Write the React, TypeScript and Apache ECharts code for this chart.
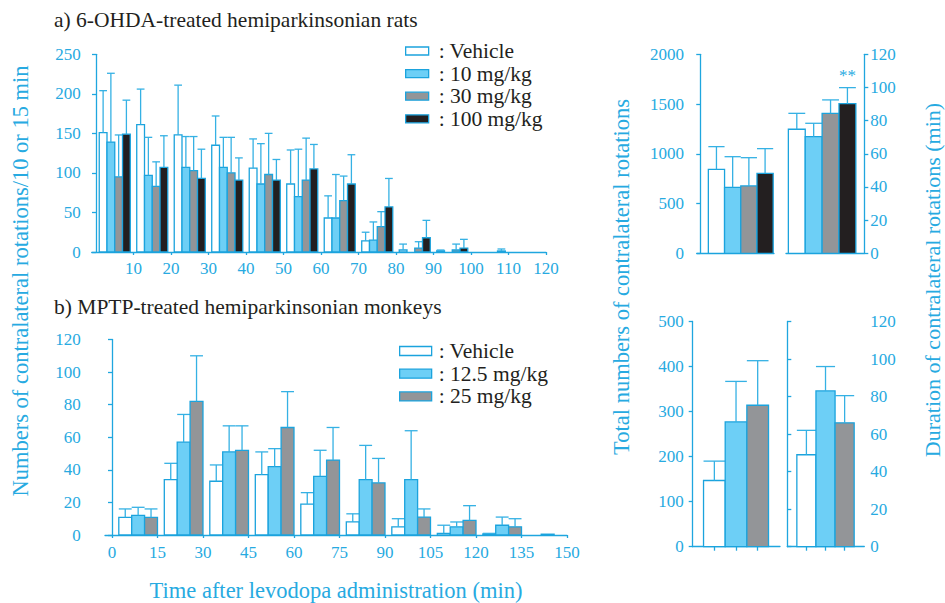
import React, { useEffect, useRef } from 'react';
import * as echarts from 'echarts';

// ---------- data: a) 6-OHDA rats (10-min bins) ----------
const ratBinStarts = [0, 10, 20, 30, 40, 50, 60, 70, 80, 90, 100, 110];
const ratBinWidth = 10;
const ratTickLabels = [10, 20, 30, 40, 50, 60, 70, 80, 90, 100, 110, 120];
const ratVehicle = [151, 161, 148, 135, 106, 86, 43, 14, 2.5, 1.5, 0, 0];
const ratVehicleErr = [204, 206, 211, 172, 143, 129, 71, 25, 10, 2.5, null, null];
const rat10 = [139, 97, 107, 107, 86, 70, 43, 15, 0, 0, 0, 0];
const rat10Err = [226, 145, 146, 145, 137, 130, 98, 38, null, null, null, null];
const rat30 = [95, 83, 103, 100, 98, 91, 65, 32, 5, 2.5, 0, 0];
const rat30Err = [148, 114, 146, 145, 150, 144, 96, 51, 13, 10, null, null];
const rat100 = [149, 107, 93, 91, 91, 105, 86, 57, 18, 5, 1.3, 0];
const rat100Err = [192, 147, 130, 119, 117, 136, 123, 93, 40, 16, 3.8, null];

// ---------- data: b) MPTP monkeys (15-min bins) ----------
const monkeyBinStarts = [0, 15, 30, 45, 60, 75, 90, 105, 120, 135];
const monkeyBinWidth = 15;
const monkeyTickLabels = [0, 15, 30, 45, 60, 75, 90, 105, 120, 135, 150];
const monkeyVehicle = [10.8, 34, 33, 37, 19, 8, 5, 1, 0.6, 0];
const monkeyVehicleErr = [16, 44, 43, 51, 26, 13, 10, 6, 1, null];
const monkey12 = [12, 57, 51, 42, 36, 34, 34, 5, 6, 0.5];
const monkey12Err = [17, 74, 67, 53, 52, 55, 64, 8, 11, null];
const monkey25 = [10.8, 82, 52, 66, 46, 32, 11, 9, 5, 0];
const monkey25Err = [16, 110, 67, 88, 66, 47, 16, 18, 10, null];

// ---------- data: totals / durations ----------
const ratTotal = [844, 663, 677, 804];
const ratTotalErr = [1072, 971, 961, 1052];
const ratDuration = [74.8, 70.3, 84.4, 90.2];
const ratDurationErr = [84.4, 78.4, 92.5, 99.9];
const ratDurationSig = ['', '', '', '**'];
const monkeyTotal = [147, 277, 314];
const monkeyTotalErr = [190, 367, 413];
const monkeyDuration = [49, 83, 66];
const monkeyDurationErr = [62, 96, 80.5];

// ---------- styles ----------
const FONT = '"Liberation Serif", "Times New Roman", serif';
const BLUE = '#27aae1';
const AXIS_BLUE = '#1fa6df';
const ERR_BLUE = '#35b1e4';
const BORDER = '#1ba3dd';
const DARK = '#231f20';
const F_WHITE = '#ffffff';
const F_LIGHT = '#6dcff6';
const F_GRAY = '#939598';
const F_BLACK = '#231f20';

const ratSeries = [
  { name: 'Vehicle', values: ratVehicle, errs: ratVehicleErr, fill: F_WHITE },
  { name: '10 mg/kg', values: rat10, errs: rat10Err, fill: F_LIGHT },
  { name: '30 mg/kg', values: rat30, errs: rat30Err, fill: F_GRAY },
  { name: '100 mg/kg', values: rat100, errs: rat100Err, fill: F_BLACK },
];
const monkeySeries = [
  { name: 'Vehicle', values: monkeyVehicle, errs: monkeyVehicleErr, fill: F_WHITE },
  { name: '12.5 mg/kg', values: monkey12, errs: monkey12Err, fill: F_LIGHT },
  { name: '25 mg/kg', values: monkey25, errs: monkey25Err, fill: F_GRAY },
];

function drawBar(api: any, left: number, bw: number, xData: number, v: number, e: number, fill: string, sig?: string) {
  const children: any[] = [];
  if (!(v > 0)) return { type: 'group', children };
  const yBase = api.coord([xData, 0])[1];
  const yTop = api.coord([xData, v])[1];
  children.push({
    type: 'rect',
    shape: { x: left, y: yTop, width: bw, height: yBase - yTop },
    style: { fill, stroke: BORDER, lineWidth: 1.3 },
  });
  if (isFinite(e) && e > v) {
    const yE = api.coord([xData, e])[1];
    const cx = left + bw / 2;
    children.push({ type: 'line', shape: { x1: cx, y1: yTop, x2: cx, y2: yE }, style: { stroke: ERR_BLUE, lineWidth: 1.3 } });
    children.push({ type: 'line', shape: { x1: left, y1: yE, x2: left + bw, y2: yE }, style: { stroke: ERR_BLUE, lineWidth: 1.3 } });
    if (sig) {
      children.push({
        type: 'text',
        x: cx,
        y: yE - 12,
        style: { text: sig, fill: BLUE, fontFamily: FONT, fontSize: 17, align: 'center', verticalAlign: 'middle' },
      });
    }
  }
  return { type: 'group', children };
}

function timeBarRenderer(idx: number, n: number, barUnits: number, align: 'center' | 'end', fill: string) {
  return (params: any, api: any) => {
    const start = api.value(0);
    const end = api.value(1);
    const v = api.value(2);
    const e = api.value(3);
    const bw = api.size([barUnits, 0])[0];
    const ps = api.coord([start, 0]);
    const pe = api.coord([end, 0]);
    const groupW = n * bw;
    const left = align === 'center' ? (ps[0] + pe[0]) / 2 - groupW / 2 + idx * bw : pe[0] - groupW + idx * bw;
    return drawBar(api, left, bw, start, v, e, fill);
  };
}

function doseBarRenderer(fills: string[], sigs?: string[]) {
  return (params: any, api: any) => {
    const pos = api.value(0);
    const v = api.value(1);
    const e = api.value(2);
    const l = api.coord([pos - 0.5, 0])[0];
    const r = api.coord([pos + 0.5, 0])[0];
    return drawBar(api, l, r - l, pos, v, e, fills[params.dataIndex], sigs ? sigs[params.dataIndex] : undefined);
  };
}

const axisLine = { show: true, lineStyle: { color: AXIS_BLUE, width: 1.3 } };
const tickStyle = { show: true, inside: false, length: 4, lineStyle: { color: AXIS_BLUE, width: 1.3 } };
const plain = (v: number) => String(v);
const labelStyle = { color: BLUE, fontFamily: FONT, fontSize: 17, fontWeight: 'normal', formatter: plain };

function buildOption(): any {
  const grids = [
    { left: 91.7, top: 54.3, width: 454.3, height: 197.7 }, // a
    { left: 105, top: 339.5, width: 462, height: 207 }, // b
    { left: 697, top: 54.3, width: 77, height: 199 }, // a totals
    { left: 786, top: 54.3, width: 78.3, height: 199 }, // a duration
    { left: 692.7, top: 321.5, width: 87.3, height: 225.2 }, // b totals
    { left: 787.3, top: 321.5, width: 77, height: 225.2 }, // b duration
  ];

  const xAxis: any[] = [
    {
      type: 'value', gridIndex: 0, min: -1.15, max: 120,
      axisLine, splitLine: { show: false },
      axisTick: { ...tickStyle, length: 3, customValues: ratTickLabels },
      axisLabel: { ...labelStyle, margin: 8, customValues: ratTickLabels },
    },
    {
      type: 'value', gridIndex: 1, min: -2.3, max: 150,
      axisLine, splitLine: { show: false },
      axisTick: { ...tickStyle, length: 3, customValues: monkeyTickLabels },
      axisLabel: { ...labelStyle, margin: 9, customValues: monkeyTickLabels },
      name: 'Time after levodopa administration (min)',
      nameLocation: 'middle', nameGap: 44,
      nameTextStyle: { color: BLUE, fontFamily: FONT, fontSize: 22.5 },
    },
    { type: 'value', gridIndex: 2, min: -0.2, max: 4.55, axisLine, splitLine: { show: false }, axisTick: { show: false }, axisLabel: { show: false } },
    { type: 'value', gridIndex: 3, min: 0.36, max: 5, axisLine, splitLine: { show: false }, axisTick: { show: false }, axisLabel: { show: false } },
    { type: 'value', gridIndex: 4, min: 0, max: 4.03, axisLine, splitLine: { show: false }, axisTick: { ...tickStyle, customValues: [1, 2, 3] }, axisLabel: { show: false } },
    { type: 'value', gridIndex: 5, min: 0, max: 4.03, axisLine, splitLine: { show: false }, axisTick: { ...tickStyle, customValues: [1, 2, 3] }, axisLabel: { show: false } },
  ];

  const yAxis: any[] = [
    { type: 'value', gridIndex: 0, min: 0, max: 250, interval: 50, axisLine, axisTick: tickStyle, splitLine: { show: false }, axisLabel: { ...labelStyle, margin: 11 } },
    { type: 'value', gridIndex: 1, min: 0, max: 120, interval: 20, offset: 13.3, axisLine, axisTick: tickStyle, splitLine: { show: false }, axisLabel: { ...labelStyle, margin: 11 } },
    { type: 'value', gridIndex: 2, min: 0, max: 2000, interval: 500, axisLine, axisTick: tickStyle, splitLine: { show: false }, axisLabel: { ...labelStyle, margin: 13 } },
    { type: 'value', gridIndex: 3, position: 'right', min: 0, max: 120, interval: 20, axisLine, axisTick: tickStyle, splitLine: { show: false }, axisLabel: { ...labelStyle, margin: 6 } },
    { type: 'value', gridIndex: 4, min: 0, max: 500, interval: 100, axisLine, axisTick: tickStyle, splitLine: { show: false }, axisLabel: { ...labelStyle, margin: 9 } },
    { type: 'value', gridIndex: 5, position: 'right', min: 0, max: 120, interval: 20, axisLine, axisTick: tickStyle, splitLine: { show: false }, axisLabel: { ...labelStyle, margin: 6 } },
  ];

  const series: any[] = [];
  ratSeries.forEach((s, i) => {
    series.push({
      type: 'custom', name: s.name, xAxisIndex: 0, yAxisIndex: 0, silent: true,
      itemStyle: { color: s.fill, borderColor: BORDER, borderWidth: 1.3 },
      encode: { x: [0, 1], y: [2, 3] },
      renderItem: timeBarRenderer(i, ratSeries.length, 2.07, 'center', s.fill),
      data: ratBinStarts.map((b, j) => [b, b + ratBinWidth, s.values[j], s.errs[j] == null ? NaN : s.errs[j]]),
    });
  });
  monkeySeries.forEach((s, i) => {
    series.push({
      type: 'custom', name: s.name, xAxisIndex: 1, yAxisIndex: 1, silent: true,
      itemStyle: { color: s.fill, borderColor: BORDER, borderWidth: 1.3 },
      encode: { x: [0, 1], y: [2, 3] },
      renderItem: timeBarRenderer(i, monkeySeries.length, 4.25, 'end', s.fill),
      data: monkeyBinStarts.map((b, j) => [b, b + monkeyBinWidth, s.values[j], s.errs[j] == null ? NaN : s.errs[j]]),
    });
  });
  const ratFills = ratSeries.map((s) => s.fill);
  const monkeyFills = monkeySeries.map((s) => s.fill);
  series.push({
    type: 'custom', name: 'rat total', xAxisIndex: 2, yAxisIndex: 2, silent: true,
    encode: { x: 0, y: [1, 2] },
    renderItem: doseBarRenderer(ratFills),
    data: ratTotal.map((v, i) => [i + 1, v, ratTotalErr[i]]),
  });
  series.push({
    type: 'custom', name: 'rat duration', xAxisIndex: 3, yAxisIndex: 3, silent: true,
    encode: { x: 0, y: [1, 2] },
    renderItem: doseBarRenderer(ratFills, ratDurationSig),
    data: ratDuration.map((v, i) => [i + 1, v, ratDurationErr[i]]),
  });
  series.push({
    type: 'custom', name: 'monkey total', xAxisIndex: 4, yAxisIndex: 4, silent: true,
    encode: { x: 0, y: [1, 2] },
    renderItem: doseBarRenderer(monkeyFills),
    data: monkeyTotal.map((v, i) => [i + 1, v, monkeyTotalErr[i]]),
  });
  series.push({
    type: 'custom', name: 'monkey duration', xAxisIndex: 5, yAxisIndex: 5, silent: true,
    encode: { x: 0, y: [1, 2] },
    renderItem: doseBarRenderer(monkeyFills),
    data: monkeyDuration.map((v, i) => [i + 1, v, monkeyDurationErr[i]]),
  });

  const legendText = { fontFamily: FONT, fontSize: 21.5, color: DARK };

  return {
    animation: false,
    backgroundColor: '#ffffff',
    textStyle: { fontFamily: FONT },
    title: [
      { text: 'a) 6-OHDA-treated hemiparkinsonian rats', left: 54, top: 9, padding: 0, textStyle: { fontFamily: FONT, fontSize: 21.5, fontWeight: 'normal', color: DARK } },
      { text: 'b) MPTP-treated hemiparkinsonian monkeys', left: 54, top: 296, padding: 0, textStyle: { fontFamily: FONT, fontSize: 21.5, fontWeight: 'normal', color: DARK } },
    ],
    legend: [
      {
        orient: 'vertical', left: 405, top: 40, padding: 0, itemWidth: 23, itemHeight: 8, itemGap: 0.6,
        selectedMode: false, icon: 'rect', formatter: ': {name}',
        textStyle: { ...legendText, padding: [0, 0, 0, 5] },
        data: ratSeries.map((s) => ({ name: s.name, itemStyle: { color: s.fill, borderColor: BORDER, borderWidth: 1.3 } })),
      },
      {
        orient: 'vertical', left: 399, top: 340, padding: 0, itemWidth: 32, itemHeight: 9, itemGap: 0.7,
        selectedMode: false, icon: 'rect', formatter: ': {name}',
        textStyle: { ...legendText, padding: [0, 0, 0, 2] },
        data: monkeySeries.map((s) => ({ name: s.name, itemStyle: { color: s.fill, borderColor: BORDER, borderWidth: 1.3 } })),
      },
    ],
    grid: grids,
    xAxis,
    yAxis,
    series,
    graphic: [
      {
        type: 'text', x: 20, y: 281, rotation: Math.PI / 2, silent: true,
        style: { text: 'Numbers of contralateral rotations/10 or 15 min', fill: BLUE, fontFamily: FONT, fontSize: 22.5, align: 'center', verticalAlign: 'middle' },
      },
      {
        type: 'text', x: 621, y: 277, rotation: Math.PI / 2, silent: true,
        style: { text: 'Total numbers of contralateral rotations', fill: BLUE, fontFamily: FONT, fontSize: 22.5, align: 'center', verticalAlign: 'middle' },
      },
      {
        type: 'text', x: 932, y: 280, rotation: Math.PI / 2, silent: true,
        style: { text: 'Duration of contralateral rotations (min)', fill: BLUE, fontFamily: FONT, fontSize: 22, align: 'center', verticalAlign: 'middle' },
      },
    ],
  };
}

export default function App() {
  const ref = useRef<HTMLDivElement>(null);
  useEffect(() => {
    if (!ref.current) return;
    const chart = echarts.init(ref.current, null, { renderer: 'svg' });
    chart.setOption(buildOption());
    return () => chart.dispose();
  }, []);
  return <div ref={ref} style={{ position: 'fixed', left: 0, top: 0, width: 945, height: 603 }} />;
}
